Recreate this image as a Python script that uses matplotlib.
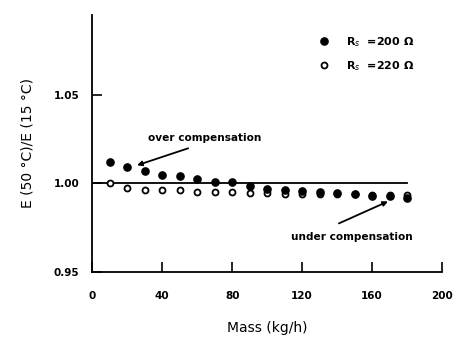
import matplotlib
matplotlib.use("Agg")
import matplotlib.pyplot as plt

mass = [10, 20, 30, 40, 50, 60, 70, 80, 90, 100, 110, 120, 130, 140, 150, 160, 170, 180]
ratio_200 = [1.012, 1.009, 1.007, 1.005, 1.004, 1.0023, 1.001, 1.0006, 0.9985, 0.997, 0.996,
             0.9955, 0.995, 0.9945, 0.994, 0.9927, 0.9927, 0.992]
ratio_220 = [1.000, 0.9972, 0.9965, 0.996, 0.996, 0.995, 0.995, 0.995, 0.9947, 0.9945, 0.9942,
             0.994, 0.994, 0.994, 0.994, 0.9935, 0.9935, 0.9935]
ref_x = [0, 180]
ref_y = [1.0, 1.0]
xticks = [0, 40, 80, 120, 160, 200]
yticks = [0.95, 1.00, 1.05]

plt.rcParams['font.family'] = ['DejaVu Sans']
fig = plt.figure(figsize=(4.65, 3.5), dpi=100)
ax = fig.add_axes([0.198, 0.223, 0.753, 0.734])

ax.plot(ref_x, ref_y, color='black', lw=1.3, zorder=1)
ax.plot(mass, ratio_220, 'o', ms=4.3, mfc='white', mec='black', mew=1.3, zorder=2,
        label='R$_s$  =220 Ω')
ax.plot(mass, ratio_200, 'o', ms=5.2, color='black', zorder=3, label='R$_s$  =200 Ω')

ax.set_xlim(0, 200)
ax.set_ylim(0.95, 1.095)
ax.set_xticks(xticks)
ax.set_yticks(yticks)
ax.set_yticklabels([f"{v:.2f}" for v in yticks])
ax.tick_params(direction='in', length=7, width=1.2, labelsize=7.5)
ax.tick_params(axis='x', pad=14)
ax.tick_params(axis='y', pad=9)
for lab in ax.get_xticklabels() + ax.get_yticklabels():
    lab.set_fontweight('bold')
for s in ['top', 'right']:
    ax.spines[s].set_visible(False)
for s in ['left', 'bottom']:
    ax.spines[s].set_linewidth(1.3)

ax.set_xlabel('Mass (kg/h)', fontsize=10, labelpad=14)
ax.set_ylabel('E (50 °C)/E (15 °C)', fontsize=10, labelpad=14)

handles, labels = ax.get_legend_handles_labels()
ax.legend(handles[::-1], labels[::-1], loc='upper right', bbox_to_anchor=(0.95, 0.96),
          frameon=False, handletextpad=1.0, labelspacing=0.9,
          prop={'weight': 'bold', 'size': 8})

ax.text(64.6, 1.0254, 'over compensation', fontsize=7.6, fontweight='bold',
        ha='center', va='center')
ax.annotate('', xy=(25.7, 1.0102), xytext=(54.9, 1.0198),
            arrowprops=dict(arrowstyle='-|>', color='black', lw=1.3, mutation_scale=7,
                            shrinkA=0, shrinkB=0))
ax.text(148.6, 0.9695, 'under compensation', fontsize=7.6, fontweight='bold',
        ha='center', va='center')
ax.annotate('', xy=(169, 0.9898), xytext=(141, 0.9774),
            arrowprops=dict(arrowstyle='-|>', color='black', lw=1.3, mutation_scale=7,
                            shrinkA=0, shrinkB=0))

fig.savefig('out.png', dpi=100)
